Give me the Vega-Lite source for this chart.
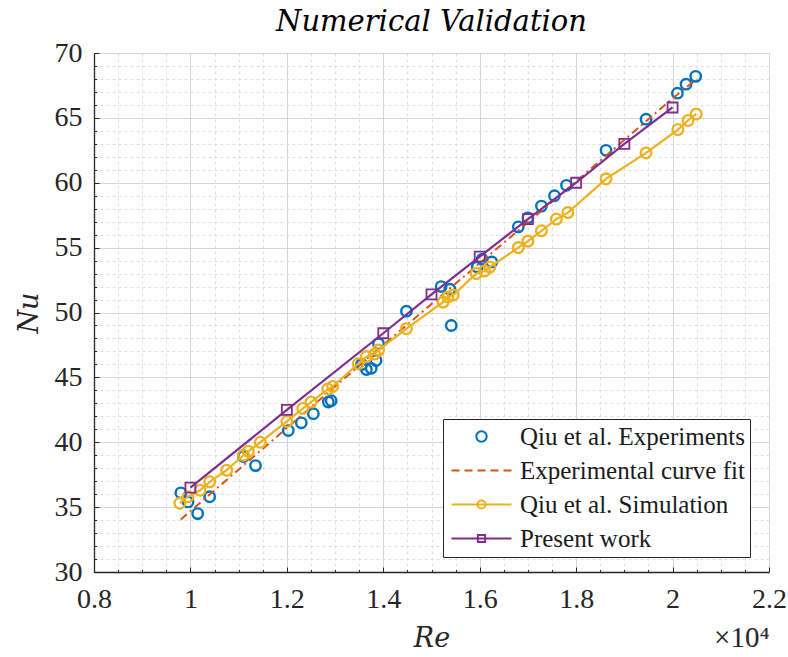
{
  "$schema": "https://vega.github.io/schema/vega-lite/v6.json",
  "autosize": {"type": "none"},
  "padding": {"left": 94, "top": 53, "right": 19, "bottom": 85},
  "width": 675,
  "height": 519,
  "background": "white",
  "title": {"text": "Numerical Validation", "font": "DejaVu Serif", "fontStyle": "italic", "fontWeight": "normal", "fontSize": 29, "color": "black", "offset": 2, "anchor": "middle"},
  "config": {
    "view": {"stroke": "#d6d6d6"},
    "axis": {"labelFont": "Liberation Serif", "labelFontSize": 28, "labelColor": "#262626", "titleColor": "#262626", "titleFont": "DejaVu Serif", "titleFontStyle": "italic", "titleFontWeight": "normal", "titleFontSize": 27, "domainColor": "#262626", "domainWidth": 1.3, "tickColor": "#262626", "tickWidth": 1, "labelFlush": false, "labelOverlap": false}
  },
  "resolve": {"axis": {"x": "independent"}},
  "datasets": {
    "pts": [
      {"series": "Qiu et al. Experiments", "Re": 9800, "Nu": 36.1},
      {"series": "Qiu et al. Experiments", "Re": 9950, "Nu": 35.4},
      {"series": "Qiu et al. Experiments", "Re": 10150, "Nu": 34.5},
      {"series": "Qiu et al. Experiments", "Re": 10400, "Nu": 35.8},
      {"series": "Qiu et al. Experiments", "Re": 11100, "Nu": 38.9},
      {"series": "Qiu et al. Experiments", "Re": 11350, "Nu": 38.2},
      {"series": "Qiu et al. Experiments", "Re": 12030, "Nu": 40.9},
      {"series": "Qiu et al. Experiments", "Re": 12300, "Nu": 41.5},
      {"series": "Qiu et al. Experiments", "Re": 12550, "Nu": 42.2},
      {"series": "Qiu et al. Experiments", "Re": 12860, "Nu": 43.1},
      {"series": "Qiu et al. Experiments", "Re": 12920, "Nu": 43.2},
      {"series": "Qiu et al. Experiments", "Re": 13550, "Nu": 46.0},
      {"series": "Qiu et al. Experiments", "Re": 13650, "Nu": 45.6},
      {"series": "Qiu et al. Experiments", "Re": 13750, "Nu": 45.7},
      {"series": "Qiu et al. Experiments", "Re": 13850, "Nu": 46.3},
      {"series": "Qiu et al. Experiments", "Re": 13900, "Nu": 47.6},
      {"series": "Qiu et al. Experiments", "Re": 14480, "Nu": 50.1},
      {"series": "Qiu et al. Experiments", "Re": 15200, "Nu": 52.0},
      {"series": "Qiu et al. Experiments", "Re": 15380, "Nu": 51.8},
      {"series": "Qiu et al. Experiments", "Re": 15410, "Nu": 49.0},
      {"series": "Qiu et al. Experiments", "Re": 15950, "Nu": 53.5},
      {"series": "Qiu et al. Experiments", "Re": 16050, "Nu": 54.1},
      {"series": "Qiu et al. Experiments", "Re": 16250, "Nu": 53.9},
      {"series": "Qiu et al. Experiments", "Re": 16800, "Nu": 56.6},
      {"series": "Qiu et al. Experiments", "Re": 17000, "Nu": 57.3},
      {"series": "Qiu et al. Experiments", "Re": 17280, "Nu": 58.2},
      {"series": "Qiu et al. Experiments", "Re": 17550, "Nu": 59.0},
      {"series": "Qiu et al. Experiments", "Re": 17800, "Nu": 59.8},
      {"series": "Qiu et al. Experiments", "Re": 18620, "Nu": 62.5},
      {"series": "Qiu et al. Experiments", "Re": 19450, "Nu": 64.9},
      {"series": "Qiu et al. Experiments", "Re": 20100, "Nu": 66.9},
      {"series": "Qiu et al. Experiments", "Re": 20280, "Nu": 67.6},
      {"series": "Qiu et al. Experiments", "Re": 20480, "Nu": 68.2},
      {"series": "Experimental curve fit", "Re": 9800, "Nu": 34.05},
      {"series": "Experimental curve fit", "Re": 12000, "Nu": 41.1},
      {"series": "Experimental curve fit", "Re": 14000, "Nu": 47.5},
      {"series": "Experimental curve fit", "Re": 16000, "Nu": 53.8},
      {"series": "Experimental curve fit", "Re": 18000, "Nu": 60.1},
      {"series": "Experimental curve fit", "Re": 20000, "Nu": 66.5},
      {"series": "Experimental curve fit", "Re": 20500, "Nu": 68.0},
      {"series": "Qiu et al. Simulation", "Re": 9780, "Nu": 35.3},
      {"series": "Qiu et al. Simulation", "Re": 9950, "Nu": 35.8},
      {"series": "Qiu et al. Simulation", "Re": 10200, "Nu": 36.3},
      {"series": "Qiu et al. Simulation", "Re": 10400, "Nu": 36.95},
      {"series": "Qiu et al. Simulation", "Re": 10750, "Nu": 37.85},
      {"series": "Qiu et al. Simulation", "Re": 11100, "Nu": 39.0},
      {"series": "Qiu et al. Simulation", "Re": 11200, "Nu": 39.3},
      {"series": "Qiu et al. Simulation", "Re": 11450, "Nu": 40.0},
      {"series": "Qiu et al. Simulation", "Re": 12000, "Nu": 41.6},
      {"series": "Qiu et al. Simulation", "Re": 12330, "Nu": 42.6},
      {"series": "Qiu et al. Simulation", "Re": 12500, "Nu": 43.1},
      {"series": "Qiu et al. Simulation", "Re": 12850, "Nu": 44.1},
      {"series": "Qiu et al. Simulation", "Re": 12950, "Nu": 44.3},
      {"series": "Qiu et al. Simulation", "Re": 13480, "Nu": 46.05},
      {"series": "Qiu et al. Simulation", "Re": 13650, "Nu": 46.6},
      {"series": "Qiu et al. Simulation", "Re": 13820, "Nu": 46.8},
      {"series": "Qiu et al. Simulation", "Re": 13900, "Nu": 47.1},
      {"series": "Qiu et al. Simulation", "Re": 14480, "Nu": 48.75},
      {"series": "Qiu et al. Simulation", "Re": 15240, "Nu": 50.8},
      {"series": "Qiu et al. Simulation", "Re": 15340, "Nu": 51.2},
      {"series": "Qiu et al. Simulation", "Re": 15450, "Nu": 51.35},
      {"series": "Qiu et al. Simulation", "Re": 15930, "Nu": 53.0},
      {"series": "Qiu et al. Simulation", "Re": 16100, "Nu": 53.2},
      {"series": "Qiu et al. Simulation", "Re": 16210, "Nu": 53.5},
      {"series": "Qiu et al. Simulation", "Re": 16800, "Nu": 55.0},
      {"series": "Qiu et al. Simulation", "Re": 17000, "Nu": 55.5},
      {"series": "Qiu et al. Simulation", "Re": 17280, "Nu": 56.3},
      {"series": "Qiu et al. Simulation", "Re": 17590, "Nu": 57.2},
      {"series": "Qiu et al. Simulation", "Re": 17830, "Nu": 57.7},
      {"series": "Qiu et al. Simulation", "Re": 18620, "Nu": 60.3},
      {"series": "Qiu et al. Simulation", "Re": 19450, "Nu": 62.3},
      {"series": "Qiu et al. Simulation", "Re": 20110, "Nu": 64.1},
      {"series": "Qiu et al. Simulation", "Re": 20320, "Nu": 64.8},
      {"series": "Qiu et al. Simulation", "Re": 20490, "Nu": 65.3},
      {"series": "Present work", "Re": 10000, "Nu": 36.5},
      {"series": "Present work", "Re": 12000, "Nu": 42.5},
      {"series": "Present work", "Re": 14000, "Nu": 48.4},
      {"series": "Present work", "Re": 15000, "Nu": 51.4},
      {"series": "Present work", "Re": 16000, "Nu": 54.3},
      {"series": "Present work", "Re": 17000, "Nu": 57.2},
      {"series": "Present work", "Re": 18000, "Nu": 60.0},
      {"series": "Present work", "Re": 19000, "Nu": 63.0},
      {"series": "Present work", "Re": 20000, "Nu": 65.8}
    ]
  },
  "data": {"name": "pts"},
  "encoding": {
    "y": {"field": "Nu", "type": "quantitative", "scale": {"domain": [30, 70], "nice": false, "zero": false},
      "axis": {
        "values": [30, 31, 32, 33, 34, 35, 36, 37, 38, 39, 40, 41, 42, 43, 44, 45, 46, 47, 48, 49, 50, 51, 52, 53, 54, 55, 56, 57, 58, 59, 60, 61, 62, 63, 64, 65, 66, 67, 68, 69, 70],
        "labelExpr": "datum.value % 5 === 0 ? '' + datum.value : ''",
        "gridDash": {"condition": {"test": "datum.value % 5 !== 0", "value": [3, 3]}, "value": []},
        "gridColor": {"condition": {"test": "datum.value % 5 !== 0", "value": "#dedede"}, "value": "#d6d6d6"},
        "tickSize": {"condition": {"test": "datum.value % 5 !== 0", "value": -2.5}, "value": -5},
        "labelPadding": 17,
        "title": "Nu", "titlePadding": 11
      }}
  },
  "layer": [
    {
      "transform": [{"filter": "datum.series === 'Qiu et al. Experiments'"}],
      "mark": {"type": "point", "filled": false, "strokeWidth": 2.4, "size": 400, "opacity": 1},
      "encoding": {
        "x": {"field": "Re", "type": "quantitative", "scale": {"domain": [8000, 22000], "nice": false, "zero": false},
          "axis": {
            "orient": "bottom",
            "values": [8000, 8500, 9000, 9500, 10000, 10500, 11000, 11500, 12000, 12500, 13000, 13500, 14000, 14500, 15000, 15500, 16000, 16500, 17000, 17500, 18000, 18500, 19000, 19500, 20000, 20500, 21000, 21500, 22000],
            "labelExpr": "datum.value % 2000 === 0 ? '' + (datum.value / 10000) : ''",
            "gridDash": {"condition": {"test": "datum.value % 2000 !== 0", "value": [3, 3]}, "value": []},
            "gridColor": {"condition": {"test": "datum.value % 2000 !== 0", "value": "#dedede"}, "value": "#d6d6d6"},
            "tickSize": {"condition": {"test": "datum.value % 2000 !== 0", "value": -2.5}, "value": -5},
            "labelPadding": 18,
            "title": "Re", "titlePadding": 10
          }},
        "color": {"field": "series", "type": "nominal",
          "scale": {"domain": ["Qiu et al. Experiments", "Experimental curve fit", "Qiu et al. Simulation", "Present work"], "range": ["#0072BD", "#D95319", "#EDB120", "#7E2F8E"]},
          "legend": {"title": null, "orient": "none", "legendX": 349, "legendY": 366, "strokeColor": "#262626", "fillColor": "white", "padding": 5, "labelFont": "Liberation Serif", "labelFontSize": 25, "labelColor": "#1a1a1a", "symbolSize": 400, "symbolOffset": 21, "labelOffset": 26, "rowPadding": 8, "symbolStrokeWidth": 2, "symbolFillColor": "transparent", "labelLimit": 400}},
        "shape": {"field": "series", "type": "nominal",
          "scale": {"domain": ["Qiu et al. Experiments", "Experimental curve fit", "Qiu et al. Simulation", "Present work"],
            "range": [
              "M0.52,0A0.52,0.52 0 1 1 -0.52,0A0.52,0.52 0 1 1 0.52,0Z",
              "M-3,0H-2.2M-1.7,0H-0.9M-0.4,0H0.4M0.9,0H1.7M2.2,0H3",
              "M-3,0H3M0.4,0A0.4,0.4 0 1 1 -0.4,0A0.4,0.4 0 1 1 0.4,0Z",
              "M-3,0H3M-0.36,-0.36H0.36V0.36H-0.36Z"
            ]},
          "legend": {"title": null}}
      }
    },
    {
      "transform": [{"filter": "datum.series === 'Experimental curve fit'"}],
      "mark": {"type": "line", "color": "#D95319", "strokeWidth": 2, "strokeDash": [8, 4, 2, 4]},
      "encoding": {"x": {"field": "Re", "type": "quantitative", "axis": null}, "order": {"field": "Re", "type": "quantitative"}}
    },
    {
      "transform": [{"filter": "datum.series === 'Qiu et al. Simulation'"}],
      "mark": {"type": "line", "color": "#EDB120", "strokeWidth": 2.2},
      "encoding": {"x": {"field": "Re", "type": "quantitative", "axis": null}, "order": {"field": "Re", "type": "quantitative"}}
    },
    {
      "transform": [{"filter": "datum.series === 'Qiu et al. Simulation'"}],
      "mark": {"type": "point", "shape": "circle", "filled": false, "color": "#EDB120", "strokeWidth": 2.3, "size": 115, "opacity": 1},
      "encoding": {"x": {"field": "Re", "type": "quantitative", "axis": null}}
    },
    {
      "transform": [{"filter": "datum.series === 'Present work'"}],
      "mark": {"type": "line", "color": "#7E2F8E", "strokeWidth": 2.2},
      "encoding": {
        "x": {"field": "Re", "type": "quantitative",
          "axis": {"orient": "bottom", "domain": false, "ticks": false, "labels": false, "grid": false, "title": "×10⁴", "titleAnchor": "end", "titleFont": "Liberation Serif", "titleFontStyle": "normal", "titleFontWeight": "normal", "titleFontSize": 29, "titlePadding": 51, "titleColor": "#262626"}},
        "order": {"field": "Re", "type": "quantitative"}}
    },
    {
      "transform": [{"filter": "datum.series === 'Present work'"}],
      "mark": {"type": "point", "shape": "square", "filled": false, "color": "#7E2F8E", "strokeWidth": 1.8, "size": 100, "opacity": 1},
      "encoding": {"x": {"field": "Re", "type": "quantitative", "axis": null}}
    }
  ]
}
